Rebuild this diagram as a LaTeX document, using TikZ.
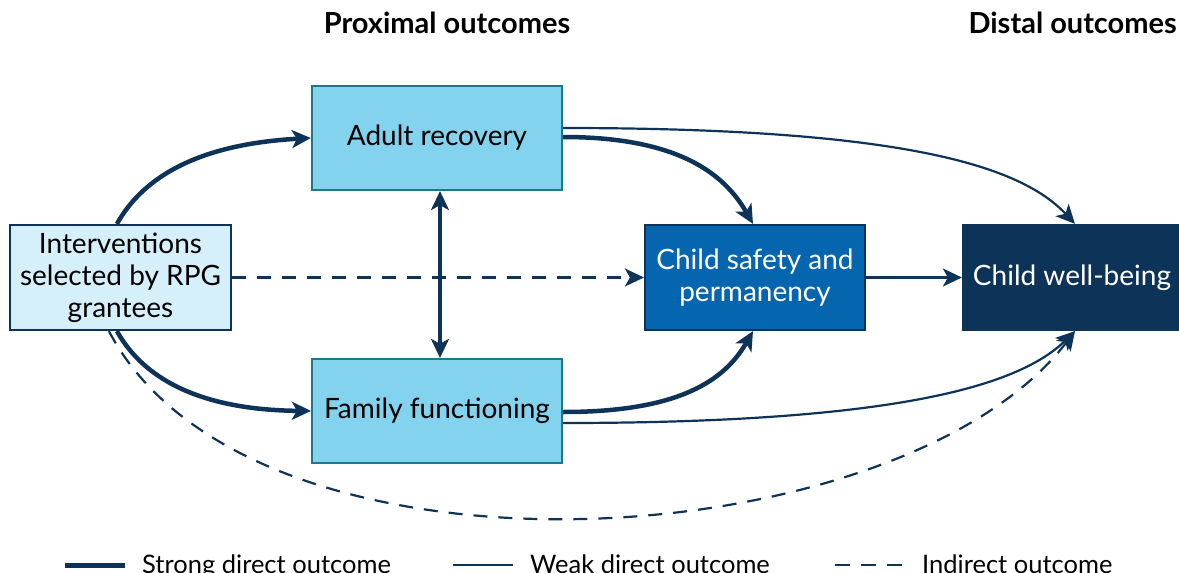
\documentclass[tikz,border=0pt]{standalone}
\usepackage{fontspec}
\setmainfont{Lato}
\usetikzlibrary{arrows.meta,calc}
\definecolor{navy}{HTML}{0E3359}
\definecolor{paleblue}{HTML}{D5F0FA}
\definecolor{skyblue}{HTML}{84D3EE}
\definecolor{tealedge}{HTML}{1A7A8C}
\definecolor{midblue}{HTML}{0565AF}
\begin{document}
\begin{tikzpicture}[x=1pt,y=-1pt,
  box/.style={draw, line width=2.2pt, align=center, inner sep=0pt,
    font=\fontsize{28}{32}\selectfont},
  inputbox/.style={box, fill=paleblue, draw=navy, text=black,
    minimum width=221pt, minimum height=105pt},
  proxbox/.style={box, fill=skyblue, draw=tealedge, text=black,
    minimum width=250pt, minimum height=104pt},
  safebox/.style={box, fill=midblue, draw=navy, text=white,
    minimum width=220pt, minimum height=105pt},
  distbox/.style={box, fill=navy, draw=navy, text=white,
    minimum width=218pt, minimum height=105pt},
  tip/.style={-{Stealth[length=19pt,width=18pt,inset=5pt]}},
  strong/.style={draw=navy, line width=4.5pt, tip},
  weak/.style={draw=navy, line width=2.2pt, tip},
  indirect/.style={draw=navy, line width=2.2pt, dash pattern=on 14pt off 11pt, tip},
  header/.style={font=\fontsize{29}{34}\selectfont\bfseries, text=black, inner sep=0pt},
  legendtext/.style={font=\fontsize{25.5}{30}\selectfont, text=black, inner sep=0pt, anchor=base west}
]
\useasboundingbox (0,0) rectangle (1179,573);

% column headers
\node[header, anchor=base] (hprox) at (447,33) {Proximal outcomes};
\node[header, anchor=base east] (hdist) at (1177,33) {Distal outcomes};

% boxes
\node[inputbox] (iv) at (120.5,277.5) {Interventions\\selected by RPG\\grantees};
\node[proxbox] (ar) at (437,138) {Adult recovery};
\node[proxbox] (ff) at (437,411) {Family functioning};
\node[safebox] (cs) at (755,277.5) {Child safety and\\permanency};
\node[distbox] (wb) at (1072,277.5) {Child well-being};

% strong direct outcomes
\draw[strong] ($(iv.north west)+(108,0)$) .. controls (150,165) and (220,143) .. (ar.west);
\draw[strong] ($(iv.south west)+(108,0)$) .. controls (150,390) and (220,410) .. (ff.west);
\draw[strong] ($(ar.east)+(0,-1)$) .. controls (680,137) and (725,175) .. ($(cs.north)+(-2,0)$);
\draw[strong] ($(ff.east)+(0,1)$) .. controls (680,412) and (725,380) .. ($(cs.south)+(-2,0)$);
\draw[draw=navy, line width=4.5pt, {Stealth[length=19pt,width=18pt,inset=5pt]}-{Stealth[length=19pt,width=18pt,inset=5pt]}]
  ($(ar.south)+(3,0)$) -- ($(ff.north)+(3,0)$);

% weak direct outcomes
\draw[weak] ($(ar.east)+(0,-10)$) .. controls (900,128) and (1020,165) .. ($(wb.north)+(3,0)$);
\draw[weak] ($(ff.east)+(0,12)$) .. controls (900,423) and (1020,385) .. ($(wb.south)+(3,0)$);
\draw[weak] (cs.east) -- (wb.west);

% indirect outcomes
\draw[indirect] (iv.east) -- (cs.west);
\draw[indirect] ($(iv.south west)+(100,0)$) .. controls (250,600) and (900,560) .. ($(wb.south)+(3,0)$);

% legend
\coordinate (ls1) at (65,565);
\coordinate (le1) at (125,565);
\coordinate (ls2) at (453,565);
\coordinate (le2) at (513,565);
\coordinate (ls3) at (835,565);
\coordinate (le3) at (902,565);
\draw[navy, line width=5pt] (ls1) -- (le1);
\draw[navy, line width=2.5pt] (ls2) -- (le2);
\draw[navy, line width=2.5pt, dash pattern=on 15pt off 11pt] (ls3) -- (le3);
\node[legendtext] (lt1) at (142,573) {Strong direct outcome};
\node[legendtext] (lt2) at (530,573) {Weak direct outcome};
\node[legendtext] (lt3) at (922,573) {Indirect outcome};
\end{tikzpicture}
\end{document}
